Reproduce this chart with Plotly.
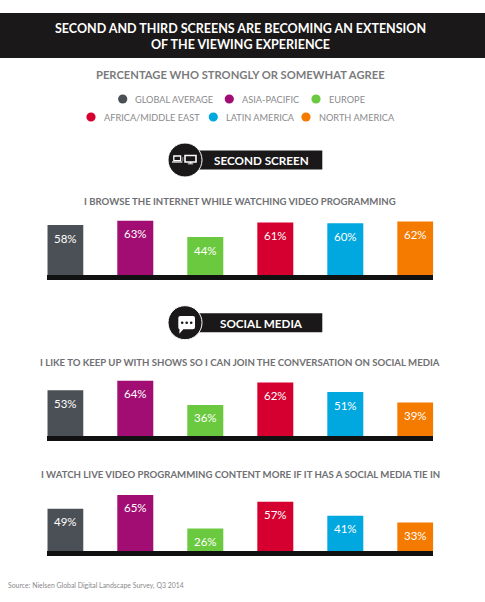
import plotly.graph_objects as go

W, H = 485, 602

# data
regions = ["GLOBAL AVERAGE", "ASIA-PACIFIC", "EUROPE",
           "AFRICA/MIDDLE EAST", "LATIN AMERICA", "NORTH AMERICA"]
region_colors = ["#4b5056", "#a10d72", "#6bc93f", "#d5002f", "#00a8df", "#f57a00"]

statements = [
    "I BROWSE THE INTERNET WHILE WATCHING VIDEO PROGRAMMING",
    "I LIKE TO KEEP UP WITH SHOWS SO I CAN JOIN THE CONVERSATION ON SOCIAL MEDIA",
    "I WATCH LIVE VIDEO PROGRAMMING CONTENT MORE IF IT HAS A SOCIAL MEDIA TIE IN",
]
browse_internet = [58, 63, 44, 61, 60, 62]
join_conversation = [53, 64, 36, 62, 51, 39]
social_tie_in = [49, 65, 26, 57, 41, 33]
series = [browse_internet, join_conversation, social_tie_in]

sections = ["SECOND SCREEN", "SOCIAL MEDIA"]

FONT = "Lato"
GREY = "#6f7073"


def px(x):
    return x / W


def py(y):
    return 1 - y / H


def label(x, y, text, size, color, xanchor="center", **kw):
    return dict(x=px(x), y=py(y), xref="paper", yref="paper", showarrow=False,
                xanchor=xanchor, yanchor="middle", text=text,
                font=dict(family=FONT, size=size, color=color), **kw)


fig = go.Figure()
annotations = []
shapes = []

# bar groups, one pair of axes each
baselines = [275, 436, 551]
stmt_ys = [201, 362.3, 474.3]
ymax = 70
px_per_pct = 0.862
for i, (vals, base, stmt) in enumerate(zip(series, baselines, statements)):
    n = "" if i == 0 else str(i + 1)
    fig.add_trace(go.Bar(
        x=list(range(len(vals))), y=vals,
        marker=dict(color=region_colors, line=dict(width=0)),
        width=0.514, xaxis="x" + n, yaxis="y" + n,
        hoverinfo="skip", showlegend=False,
    ))
    top = base - ymax * px_per_pct
    fig.layout["xaxis" + n] = dict(
        domain=[px(47.3), px(433.3)], range=[-0.257, 5.257],
        showline=True, linecolor="#111111", linewidth=5,
        showgrid=False, zeroline=False, showticklabels=False, ticks="",
        anchor="y" + n, fixedrange=True,
    )
    fig.layout["yaxis" + n] = dict(
        domain=[py(base), py(top)], range=[0, ymax], visible=False,
        anchor="x" + n, fixedrange=True,
    )
    for j, v in enumerate(vals):
        annotations.append(dict(
            x=j, y=v, xref="x" + n, yref="y" + n, yshift=-13,
            text=f"{v}%", showarrow=False,
            font=dict(family=FONT, size=11.5, color="white"),
        ))
    annotations.append(label(240, stmt_ys[i], f"<b>{stmt}</b>", 9.6, GREY))

# title banner
shapes.append(dict(type="rect", xref="paper", yref="paper",
                   x0=0, x1=1, y0=py(58), y1=py(13),
                   fillcolor="#1a1818", line=dict(width=0), layer="below"))
annotations.append(label(
    240, 36.5,
    "<b>SECOND AND THIRD SCREENS ARE BECOMING AN EXTENSION<br>"
    "OF THE VIEWING EXPERIENCE</b>", 12.5, "white"))
annotations.append(label(
    240, 75, "<b>PERCENTAGE WHO STRONGLY OR SOMEWHAT AGREE</b>", 11.2, "#7b7b7d"))

# legend
legend_pos = [(122.7, 99), (229.3, 99), (316, 99),
              (91, 117), (213.3, 117), (306, 117)]
r = 4.6
for name, col, (lx, ly) in zip(regions, region_colors, legend_pos):
    shapes.append(dict(type="circle", xref="paper", yref="paper",
                       x0=px(lx - r), x1=px(lx + r), y0=py(ly + r), y1=py(ly - r),
                       fillcolor=col, line=dict(width=0)))
    annotations.append(label(lx + 10.5, ly, name, 9.2, "#8a8a8c", xanchor="left"))

# section headers
header_y = [160, 322.7]
for name, hy in zip(sections, header_y):
    shapes.append(dict(type="rect", xref="paper", yref="paper",
                       x0=px(198), x1=px(322.3), y0=py(hy + 9.5), y1=py(hy - 9.5),
                       fillcolor="#1a1818", line=dict(width=0)))
    shapes.append(dict(type="circle", xref="paper", yref="paper",
                       x0=px(185 - 17), x1=px(185 + 17), y0=py(hy + 17), y1=py(hy - 17),
                       fillcolor="#1a1818", line=dict(color="white", width=1)))
    annotations.append(label(261.5, hy, f"<b>{name}</b>", 11.7, "white"))


def rect(x0, x1, y0, y1, fill=None, lw=0):
    d = dict(type="rect", xref="paper", yref="paper",
             x0=px(x0), x1=px(x1), y0=py(y1), y1=py(y0))
    if fill:
        d["fillcolor"] = fill
        d["line"] = dict(width=0)
    else:
        d["line"] = dict(color="white", width=lw)
    return d


# second screen icon: laptop + monitor
hy = header_y[0]
shapes += [
    rect(173.8, 180.6, hy - 4, hy + 0.6, lw=1.3),
    rect(172, 182.4, hy + 1.4, hy + 2.6, fill="white"),
    rect(182.3, 183.3, hy - 2.5, hy - 1.5, fill="white"),
    rect(182.3, 183.3, hy - 0.5, hy + 0.5, fill="white"),
    rect(185, 196, hy - 4.5, hy + 2, lw=1.6),
    rect(189.6, 191.4, hy + 2, hy + 3.6, fill="white"),
    rect(187.8, 193.2, hy + 3.4, hy + 4.3, fill="white"),
]

# social media icon: speech bubble with dots
hy = header_y[1]
bx0, bx1, by0, by1 = 178.3, 195, hy - 6.7, hy + 6.6
rr = 2
path = (
    f"M {px(bx0 + rr)},{py(by0)} L {px(bx1 - rr)},{py(by0)} "
    f"Q {px(bx1)},{py(by0)} {px(bx1)},{py(by0 + rr)} "
    f"L {px(bx1)},{py(by1 - rr)} Q {px(bx1)},{py(by1)} {px(bx1 - rr)},{py(by1)} "
    f"L {px(bx0 + 5)},{py(by1)} L {px(bx0 + 1)},{py(by1 + 4.5)} "
    f"L {px(bx0 + 1.2)},{py(by1)} "
    f"Q {px(bx0)},{py(by1)} {px(bx0)},{py(by1 - rr)} "
    f"L {px(bx0)},{py(by0 + rr)} Q {px(bx0)},{py(by0)} {px(bx0 + rr)},{py(by0)} Z"
)
shapes.append(dict(type="path", xref="paper", yref="paper", path=path,
                   fillcolor="white", line=dict(width=0)))
for dx in (182.2, 186.7, 191.2):
    shapes.append(dict(type="circle", xref="paper", yref="paper",
                       x0=px(dx - 1.3), x1=px(dx + 1.3), y0=py(hy + 1.3), y1=py(hy - 1.3),
                       fillcolor="#1a1818", line=dict(width=0)))

# source
annotations.append(label(6, 585.7,
                         "Source: Nielsen Global Digital Landscape Survey, Q3 2014",
                         6.9, "#8a8a8c", xanchor="left"))

fig.update_layout(
    width=W, height=H,
    margin=dict(l=0, r=0, t=0, b=0),
    paper_bgcolor="white", plot_bgcolor="white",
    font=dict(family=FONT),
    shapes=shapes, annotations=annotations,
    showlegend=False,
)

# drop the browser's default body margin so the figure fills the window
fig.write_html("out.html", config={"displayModeBar": False},
               post_script="document.body.style.margin='0';")
